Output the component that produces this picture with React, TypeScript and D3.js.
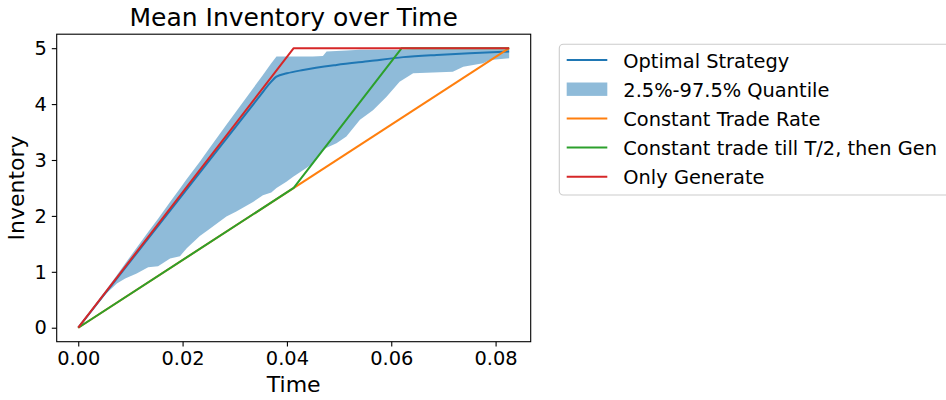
import * as d3 from "d3";
import React, { useRef, useEffect } from "react";

// time horizon of the simulation (years)
const T_END = 0.0826;

// quantile band of the optimal strategy
const bandTime = [
  0, 0.0046, 0.0051, 0.0074, 0.009, 0.0112, 0.0134, 0.0153, 0.0176, 0.0195,
  0.0208, 0.0233, 0.0249, 0.0284, 0.0303, 0.0335, 0.0354, 0.037, 0.038, 0.0399,
  0.0412, 0.0438, 0.045, 0.0469, 0.0476, 0.0495, 0.0514, 0.054, 0.0565, 0.0591,
  0.0616, 0.0642, 0.0718, 0.0738, 0.0776, 0.0789, 0.0826,
];
const bandLower = [
  0, 0.55, 0.59, 0.79, 0.88, 0.97, 1.08, 1.1, 1.24, 1.28, 1.42, 1.64, 1.75,
  1.99, 2.08, 2.25, 2.37, 2.42, 2.5, 2.61, 2.7, 2.86, 2.94, 3.18, 3.22, 3.3,
  3.42, 3.72, 3.89, 4.13, 4.4, 4.55, 4.58, 4.67, 4.73, 4.79, 4.82,
];
const bandUpper = [
  0, 0.59, 0.65, 0.94, 1.15, 1.43, 1.71, 1.95, 2.25, 2.49, 2.66, 2.97, 3.18,
  3.63, 3.87, 4.28, 4.52, 4.73, 4.85, 4.85, 4.85, 4.85, 4.85, 4.86, 4.94, 4.95,
  4.96, 4.97, 4.97, 4.97, 4.97, 4.98, 4.98, 4.98, 4.98, 4.98, 4.98,
];

// mean inventory of the optimal strategy
const optTime = [0, 0.02, 0.035, 0.0367, 0.038, 0.04, 0.0431, 0.0495, 0.0559, 0.0623, 0.0687, 0.075, 0.0826];
const optInv = [0, 2.38, 4.17, 4.37, 4.49, 4.55, 4.61, 4.7, 4.77, 4.84, 4.88, 4.91, 4.94];

// benchmark strategies
const constTime = [0, 0.0826];
const constInv = [0, 5];
const halfTime = [0, 0.0413, 0.062, 0.0826];
const halfInv = [0, 2.5, 5, 5];
const genTime = [0, 0.0413, 0.0826];
const genInv = [0, 5, 5];

const xTicks = [0, 0.02, 0.04, 0.06, 0.08];
const yTicks = [0, 1, 2, 3, 4, 5];

const legendLabels = [
  "Optimal Strategy",
  "2.5%-97.5% Quantile",
  "Constant Trade Rate",
  "Constant trade till T/2, then Gen",
  "Only Generate",
];
const legendKinds = ["line", "patch", "line", "line", "line"];
const legendColors = ["#1f77b4", "#1f77b4", "#ff7f0e", "#2ca02c", "#d62728"];

const FONT = "DejaVu Sans, sans-serif";
const box = { left: 56.7, right: 530.7, top: 34.2, bottom: 341.7 };

const draw = (el: any) => {
  const svg = d3.select(el);
  svg.selectAll("*").remove();

  const x = d3
    .scaleLinear()
    .domain([-0.05 * T_END, 1.05 * T_END])
    .range([box.left, box.right]);
  const y = d3.scaleLinear().domain([-0.25, 5.25]).range([box.bottom, box.top]);

  const zip = (ts: number[], vs: number[]) => ts.map((t, i) => [t, vs[i]] as [number, number]);
  const line = d3
    .line<[number, number]>()
    .x((d) => x(d[0]))
    .y((d) => y(d[1]));

  // band
  const area = d3
    .area<number>()
    .x((d, i) => x(bandTime[i]))
    .y0((d, i) => y(bandLower[i]))
    .y1((d, i) => y(bandUpper[i]));
  svg
    .append("path")
    .attr("d", area(bandTime))
    .attr("fill", "#1f77b4")
    .attr("fill-opacity", 0.5);

  // optimal strategy
  svg
    .append("path")
    .attr("d", line.curve(d3.curveMonotoneX)(zip(optTime, optInv)))
    .attr("fill", "none")
    .attr("stroke", "#1f77b4")
    .attr("stroke-width", 2);
  line.curve(d3.curveLinear);

  const series: [number[], number[], string][] = [
    [constTime, constInv, "#ff7f0e"],
    [halfTime, halfInv, "#2ca02c"],
    [genTime, genInv, "#d62728"],
  ];
  series.forEach(([ts, vs, c]) => {
    svg
      .append("path")
      .attr("d", line(zip(ts, vs)))
      .attr("fill", "none")
      .attr("stroke", c)
      .attr("stroke-width", 2)
      .attr("stroke-linejoin", "round");
  });

  // frame
  svg
    .append("rect")
    .attr("x", box.left)
    .attr("y", box.top)
    .attr("width", box.right - box.left)
    .attr("height", box.bottom - box.top)
    .attr("fill", "none")
    .attr("stroke", "#000")
    .attr("stroke-width", 1.1);

  // axes
  const xAxis = svg
    .append("g")
    .attr("transform", "translate(0," + box.bottom + ")")
    .call(
      d3
        .axisBottom(x)
        .tickValues(xTicks)
        .tickFormat(d3.format(".2f"))
        .tickSizeInner(4.9)
        .tickSizeOuter(0)
        .tickPadding(4.6)
    );
  const yAxis = svg
    .append("g")
    .attr("transform", "translate(" + box.left + ",0)")
    .call(
      d3
        .axisLeft(y)
        .tickValues(yTicks)
        .tickFormat(d3.format("d"))
        .tickSizeInner(4.9)
        .tickSizeOuter(0)
        .tickPadding(4.9)
    );
  [xAxis, yAxis].forEach((g) => {
    g.select(".domain").remove();
    g.selectAll(".tick line").attr("stroke", "#000").attr("stroke-width", 1.1);
    g.selectAll(".tick text")
      .attr("fill", "#000")
      .style("font-family", FONT)
      .style("font-size", "19.4px");
  });

  // titles
  svg
    .append("text")
    .attr("x", (box.left + box.right) / 2)
    .attr("y", 26)
    .attr("text-anchor", "middle")
    .style("font-family", FONT)
    .style("font-size", "25px")
    .text("Mean Inventory over Time");
  svg
    .append("text")
    .attr("x", (box.left + box.right) / 2)
    .attr("y", 392)
    .attr("text-anchor", "middle")
    .style("font-family", FONT)
    .style("font-size", "22px")
    .text("Time");
  svg
    .append("text")
    .attr("transform", "translate(24," + (box.top + box.bottom) / 2 + ") rotate(-90)")
    .attr("text-anchor", "middle")
    .style("font-family", FONT)
    .style("font-size", "22px")
    .text("Inventory");

  // legend
  const lg = svg.append("g");
  lg.append("rect")
    .attr("x", 559.3)
    .attr("y", 44.3)
    .attr("width", 420)
    .attr("height", 150.7)
    .attr("rx", 4)
    .attr("fill", "#fff")
    .attr("fill-opacity", 0.8)
    .attr("stroke", "#cccccc")
    .attr("stroke-width", 1.1);
  legendLabels.forEach((label, i) => {
    const cy = 60 + i * 29.2;
    if (legendKinds[i] === "patch") {
      lg.append("rect")
        .attr("x", 566.7)
        .attr("y", cy - 6.7)
        .attr("width", 40.6)
        .attr("height", 13.4)
        .attr("fill", legendColors[i])
        .attr("fill-opacity", 0.5);
    } else {
      lg.append("line")
        .attr("x1", 566.7)
        .attr("x2", 607.3)
        .attr("y1", cy)
        .attr("y2", cy)
        .attr("stroke", legendColors[i])
        .attr("stroke-width", 2);
    }
    lg.append("text")
      .attr("x", 623.3)
      .attr("y", cy + 7.6)
      .style("font-family", FONT)
      .style("font-size", "19.4px")
      .text(label);
  });
};

function App() {
  const ref = useRef<any>();
  useEffect(() => {
    draw(ref.current);
  }, []);
  return (
    <div style={{ position: "absolute", left: 0, top: 0 }}>
      <svg ref={ref} width={946} height={400} style={{ display: "block", background: "#fff" }}></svg>
    </div>
  );
}

export default App;
